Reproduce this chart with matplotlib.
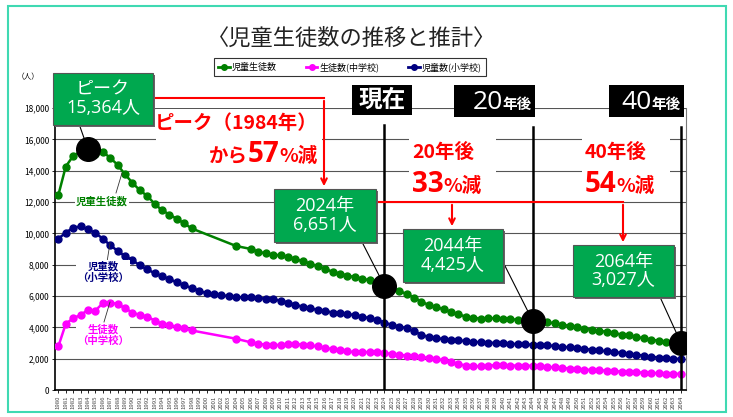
import numpy as np
import matplotlib
matplotlib.use('Agg')
import matplotlib.pyplot as plt
from matplotlib.patches import Rectangle, FancyArrowPatch
from matplotlib.lines import Line2D

plt.rcParams['font.family'] = ['Noto Sans CJK JP', 'DejaVu Sans']
DIGITS = ['Open Sans', 'Noto Sans CJK JP']

nan = np.nan
years = np.arange(1980, 2065)

# 児童生徒数 (total)
total = [12440, 14260, 14940, 15230, 15364, 15090, 15200, 14820, 14370, 13760,
         13230, 12740, 12390, 11880, 11470, 11200, 10920, 10630, 10310, nan,
         nan, nan, nan, nan, 9190, nan, 9000, 8820, 8720, 8640,
         8590, 8510, 8360, 8210, 8070, 7890, 7730, 7550, 7430, 7300,
         7210, 7110, 7000, 6880, 6651, 6460, 6310, 6140, 5890, 5640,
         5420, 5290, 5150, 4980, 4830, 4680, 4600, 4560, 4580, 4580,
         4560, 4510, 4490, 4470, 4425, 4390, 4320, 4260, 4170, 4090,
         4010, 3920, 3850, 3790, 3710, 3630, 3540, 3480, 3390, 3300,
         3220, 3140, 3070, 3040, 3027]
# 生徒数(中学校)
junior = [2780, 4220, 4580, 4790, 5110, 5070, 5540, 5580, 5490, 5220,
          4940, 4790, 4690, 4430, 4220, 4120, 4050, 3950, 3800, nan,
          nan, nan, nan, nan, 3270, nan, 3040, 2950, 2890, 2850,
          2890, 2930, 2930, 2890, 2850, 2780, 2680, 2610, 2530, 2460,
          2420, 2420, 2420, 2400, 2360, 2300, 2260, 2190, 2150, 2110,
          2040, 1980, 1900, 1770, 1660, 1560, 1520, 1520, 1560, 1580,
          1580, 1560, 1560, 1560, 1540, 1520, 1470, 1450, 1410, 1370,
          1350, 1300, 1280, 1260, 1240, 1200, 1180, 1160, 1130, 1110,
          1090, 1070, 1050, 1040, 1030]
# 児童数(小学校)
elem = [9660, 10040, 10360, 10440, 10250, 10020, 9660, 9240, 8880, 8540,
        8290, 7950, 7700, 7450, 7250, 7080, 6870, 6680, 6510, 6340,
        6170, 6110, 6060, 5980, 5920, 5920, 5960, 5870, 5830, 5790,
        5700, 5580, 5430, 5320, 5220, 5110, 5050, 4940, 4900, 4840,
        4790, 4690, 4580, 4480, 4300, 4160, 4050, 3950, 3740, 3530,
        3380, 3310, 3250, 3210, 3170, 3120, 3080, 3040, 3020, 3000,
        2980, 2950, 2930, 2910, 2890, 2870, 2850, 2810, 2760, 2720,
        2660, 2620, 2570, 2530, 2470, 2430, 2360, 2320, 2260, 2190,
        2130, 2070, 2020, 2000, 1980]

peak_year, peak_val = 1984, 15364
mark_years = [2024, 2044, 2064]
mark_vals = [6651, 4425, 3027]

W, H = 733, 417
GREEN = '#008000'
MAGENTA = '#FF00FF'
NAVY = '#000080'
BOXGREEN = '#00A84F'
RED = '#FF0000'

fig = plt.figure(figsize=(W / 100, H / 100), dpi=100)
renderer = fig.canvas.get_renderer()

def fx(x):
    return x / W

def fy(y):
    return 1 - y / H

def rect(x0, y0, x1, y1, fc, ec='none', lw=0, z=1):
    fig.add_artist(Rectangle((fx(x0), fy(y1)), (x1 - x0) / W, (y1 - y0) / H,
                             transform=fig.transFigure, fc=fc, ec=ec, lw=lw, zorder=z))

def line(xs, ys, color, lw=1.5, z=2):
    fig.add_artist(Line2D([fx(v) for v in xs], [fy(v) for v in ys],
                          transform=fig.transFigure, color=color, lw=lw, zorder=z))

def arrow(x, y0, y1):
    fig.add_artist(FancyArrowPatch((fx(x), fy(y0)), (fx(x), fy(y1)),
                                   transform=fig.transFigure, arrowstyle='->',
                                   mutation_scale=10, color=RED, lw=1.5, zorder=2))

def text(x, y, s, **kw):
    kw.setdefault('zorder', 5)
    return fig.text(fx(x), fy(y), s, **kw)

# run of text pieces with mixed sizes on one baseline, left or right anchored
def run(x, y, pieces, color, align='left', **kw):
    items = []
    for s, fs, wt, fam in pieces:
        t = text(x, y, s, fontsize=fs, color=color, weight=wt, family=fam,
                 ha='left', va='baseline', **kw)
        items.append((t, t.get_window_extent(renderer=renderer).width))
    total_w = sum(w for _, w in items)
    cx = x - total_w if align == 'right' else x
    for t, w in items:
        t.set_x(fx(cx))
        cx += w

CJK = ['Noto Sans CJK JP', 'DejaVu Sans']

# outer frame
rect(8, 6, 726, 412, 'none', ec='#3FD9B2', lw=1.5, z=0)

ax = fig.add_axes([fx(55), fy(390), 631 / W, 282 / H])
ax.set_xlim(1979.55, 2064.7)
ax.set_ylim(0, 18000)

for vals, color, z in [(junior, MAGENTA, 3), (elem, NAVY, 3), (total, GREEN, 4)]:
    v = np.array(vals, dtype=float)
    m = ~np.isnan(v)
    ax.plot(years[m], v[m], color=color, lw=1.8, marker='o', ms=5, zorder=z)

ax.set_yticks(np.arange(0, 18001, 2000))
ax.set_yticklabels([f'{int(t):,}' for t in np.arange(0, 18001, 2000)], fontsize=6)
ax.set_xticks(years)
ax.set_xticklabels([str(y) for y in years], rotation=90, fontsize=4.3, color='#444')
ax.tick_params(axis='both', length=2, width=0.6, pad=2)
ax.grid(axis='y', color='#555', lw=0.8)
ax.set_axisbelow(True)
ax.spines['top'].set_visible(False)
ax.spines['right'].set_color('#777')
ax.spines['left'].set_linewidth(1.2)
ax.spines['bottom'].set_linewidth(1.2)

# vertical markers for now / 20 / 40 years
tops = [16900, 16800, 16800]
for yr, t in zip(mark_years, tops):
    ax.plot([yr, yr], [0, t], color='black', lw=1.8, zorder=5)

# highlight circles
ax.plot([peak_year], [peak_val], 'o', color='black', ms=17, zorder=6)
ax.plot(mark_years, mark_vals, 'o', color='black', ms=17, zorder=6)

# title / unit
text(352, 38, '〈児童生徒数の推移と推計〉', fontsize=16, ha='center', va='center', color='#222')
text(28, 77, '（人）', fontsize=5.5, ha='center', va='center')

# legend
handles = [Line2D([0], [0], color=GREEN, lw=2, marker='o', ms=4, label='児童生徒数'),
           Line2D([0], [0], color=MAGENTA, lw=2, marker='o', ms=4, label='生徒数(中学校)'),
           Line2D([0], [0], color=NAVY, lw=2, marker='o', ms=4, label='児童数(小学校)')]
leg = fig.legend(handles=handles, loc='center', bbox_to_anchor=(fx(350), fy(67)), ncol=3,
                 fontsize=6.5, frameon=True, fancybox=False, edgecolor='black',
                 handlelength=1.3, handletextpad=0.2, columnspacing=3.2, borderpad=0.45)
leg.get_frame().set_linewidth(0.8)

# series labels
for (x, y, s, c, lx, ly) in [(102, 201, '児童生徒数', GREEN, (116, 122), (193, 173)),
                             (103, 272, '児童数\n（小学校）', NAVY, (107, 110), (262, 243)),
                             (103, 335, '生徒数\n（中学校）', MAGENTA, (104, 110), (322, 302))]:
    line(lx, ly, '#333', lw=0.6, z=1)
    text(x, y, s, fontsize=7.5, color=c, ha='center', va='center', linespacing=1.1,
         weight='bold', bbox=dict(fc='white', ec='none', pad=1))

# white patches behind red text
rect(156, 109, 322, 168, 'white', z=1)
rect(409, 136, 496, 197, 'white', z=1)
rect(582, 136, 670, 197, 'white', z=1)

# red connectors
line([153, 324], [98, 98], RED)
arrow(324, 98, 189)
line([376, 623], [202, 202], RED)
arrow(452, 202, 229)
arrow(623, 202, 245)

# green boxes with pointer lines to highlight circles
boxes = [((53, 73, 153, 125), 'ピーク\n15,364人', (78, 121), peak_year, peak_val),
         ((274, 189, 376, 242), '2024年\n6,651人', (362, 242), mark_years[0], mark_vals[0]),
         ((403, 229, 503, 282), '2044年\n4,425人', (503, 262), mark_years[1], mark_vals[1]),
         ((573, 245, 674, 297), '2064年\n3,027人', (660, 297), mark_years[2], mark_vals[2])]
for (x0, y0, x1, y1), s, (px, py), yr, v in boxes:
    ax.annotate('', xy=(yr, v), xycoords='data', xytext=(px, H - py), textcoords='figure pixels',
                arrowprops=dict(arrowstyle='-', color='black', lw=0.8, shrinkA=0, shrinkB=0),
                zorder=5, annotation_clip=False)
    rect(x0 + 2, y0 + 2, x1 + 2, y1 + 2, '#666', z=3)
    rect(x0, y0, x1, y1, BOXGREEN, ec='#555', lw=0.8, z=3)
    text((x0 + x1) / 2, (y0 + y1) / 2, s, fontsize=13, color='white', ha='center', va='center',
         linespacing=1.05, family=DIGITS)

# black header boxes
rect(352, 85, 412, 115, 'black', z=3)
text(382, 100, '現在', fontsize=17, color='white', ha='center', va='center', weight='bold')
for (x0, x1, num) in [(454, 535, '20'), (609, 684, '40')]:
    rect(x0, 85, x1, 117, 'black', z=3)
    run(x1 - 3, 109, [(num, 19, 'normal', DIGITS), ('年後', 10.5, 'bold', CJK)], 'white',
        align='right')

# red text
text(318, 124, 'ピーク（1984年）', fontsize=14, color=RED, ha='right', va='center', weight='bold')
run(318, 162, [('から', 14, 'bold', CJK), ('57', 20, 'bold', DIGITS), ('%減', 14, 'bold', CJK)],
    RED, align='right')

text(412, 152, '20年後', fontsize=14, color=RED, ha='left', va='center', weight='bold')
run(412, 192, [('33', 20, 'bold', DIGITS), ('%減', 14, 'bold', CJK)], RED)

text(585, 152, '40年後', fontsize=14, color=RED, ha='left', va='center', weight='bold')
run(585, 192, [('54', 20, 'bold', DIGITS), ('%減', 14, 'bold', CJK)], RED)

fig.savefig('out.png', dpi=100)
